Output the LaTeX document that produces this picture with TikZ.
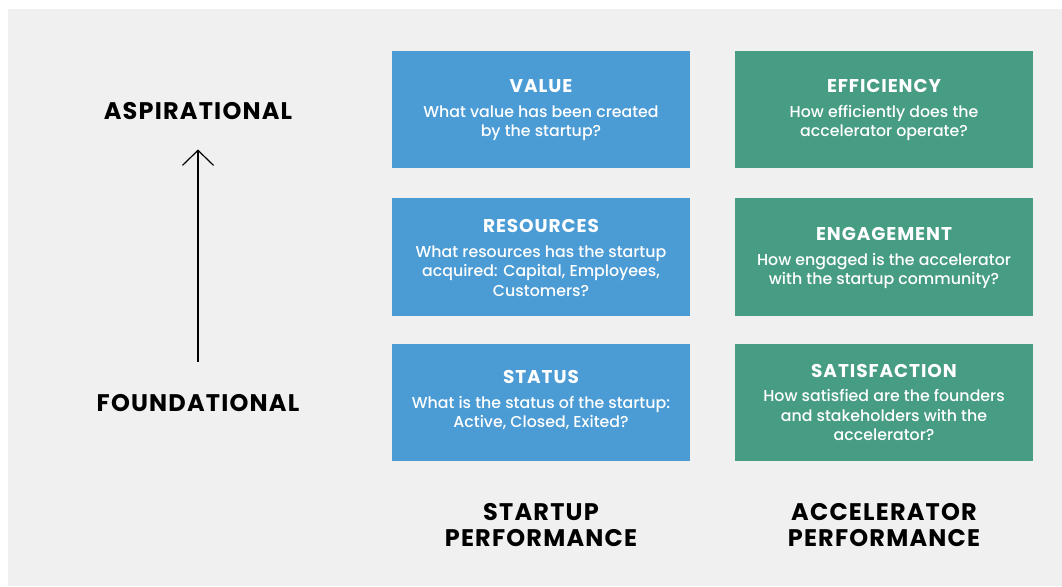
\documentclass[tikz,border=0pt]{standalone}
\usepackage{fontspec}
\setmainfont{Poppins}
\newfontfamily\bodyfont{Poppins Medium}
\usetikzlibrary{arrows.meta}
\definecolor{bgGrey}{HTML}{F0F0F0}
\definecolor{boxBlue}{HTML}{4B9BD5}
\definecolor{boxGreen}{HTML}{479C84}
\tikzset{
  metricbox/.style={inner sep=0pt, minimum width=298pt, minimum height=117.5pt},
  bluebox/.style={metricbox, fill=boxBlue},
  greenbox/.style={metricbox, fill=boxGreen},
  boxtext/.style={inner sep=0pt, align=center, text=white, font=\bodyfont\fontsize{15.8}{19.5}\selectfont},
  biglabel/.style={font=\fontsize{24}{26}\bfseries\addfontfeatures{LetterSpace=5}\selectfont, align=center, text=black, inner sep=0pt},
}
\newcommand{\boxtitle}[1]{{\normalfont\fontsize{18.5}{20}\bfseries\addfontfeatures{LetterSpace=5}\selectfont #1}\\[5pt]}
\begin{document}
\begin{tikzpicture}[x=1pt,y=-1pt]
\useasboundingbox (0,0) rectangle (1062,586);
\fill[white] (0,0) rectangle (1062,586);
\fill[bgGrey] (8,9) rectangle (1062,586);

\node[bluebox] (value) at (541,109.5) {};
\node[bluebox] (resources) at (541,257) {};
\node[bluebox] (status) at (541,402.5) {};
\node[greenbox] (efficiency) at (884,109.5) {};
\node[greenbox] (engagement) at (884,257) {};
\node[greenbox] (satisfaction) at (884,402.5) {};

\node[boxtext] (valuetext) at ([yshift=-1pt]value.center) {\boxtitle{VALUE}What value has been created\\by the startup?};
\node[boxtext] (resourcestext) at ([yshift=-1pt]resources.center) {\boxtitle{RESOURCES}What resources has the startup\\acquired: Capital, Employees,\\Customers?};
\node[boxtext] (statustext) at ([yshift=2pt]status.center) {\boxtitle{STATUS}What is the status of the startup:\\Active, Closed, Exited?};

\node[boxtext] (efficiencytext) at ([yshift=-1pt]efficiency.center) {\boxtitle{EFFICIENCY}How efficiently does the\\accelerator operate?};
\node[boxtext] (engagementtext) at ([yshift=-1pt]engagement.center) {\boxtitle{ENGAGEMENT}How engaged is the accelerator\\with the startup community?};
\node[boxtext] (satisfactiontext) at (satisfaction.center) {\boxtitle{SATISFACTION}How satisfied are the founders\\and stakeholders with the\\accelerator?};

\node[biglabel] (startup) at (541,525.5) {STARTUP\\PERFORMANCE};
\node[biglabel] (accel) at (884,525.5) {ACCELERATOR\\PERFORMANCE};

\node[biglabel] (asp) at (198,111.5) {ASPIRATIONAL};
\node[biglabel] (found) at (198,403.5) {FOUNDATIONAL};

\coordinate (arrowtop) at (198,149.5);
\coordinate (arrowbot) at (198,362);
\draw[line width=1.4pt, -{Straight Barb[length=15pt,width=31pt,line width=1.2pt]}] (arrowbot) -- (arrowtop);
\end{tikzpicture}
\end{document}
